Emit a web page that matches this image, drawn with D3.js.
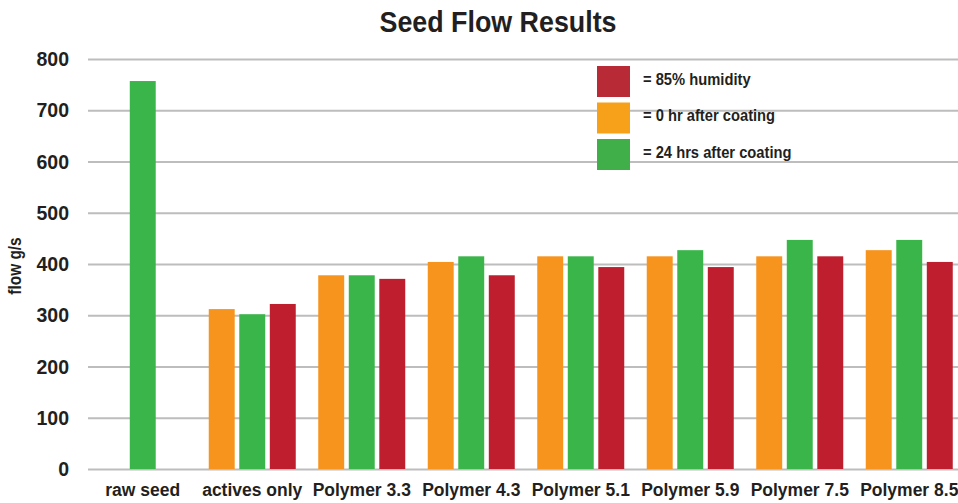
<!DOCTYPE html>
<html>
<head>
<meta charset="utf-8">
<script src="https://cdn.jsdelivr.net/npm/d3@7"></script>
<style>
	body { margin: 0; background: #fff; }
	text { font-family: 'Liberation Sans', Arial, sans-serif; font-weight: bold; fill: #231f20; }
</style>
</head>
<body>
<div id="chart"></div>
<script>
// Seed flow data (g/s)

const categories = ['raw seed', 'actives only', 'Polymer 3.3', 'Polymer 4.3', 'Polymer 5.1', 'Polymer 5.9', 'Polymer 7.5', 'Polymer 8.5']
const series = ['0 hr', '24 hrs', '85% humidity']
const hr0 = [null, 312, 378, 404, 415, 415, 415, 427]
const hr24 = [757, 302, 378, 415, 415, 427, 447, 447]
const humidity = [null, 322, 371, 378, 394, 394, 415, 404]
const yTicks = [0, 100, 200, 300, 400, 500, 600, 700, 800]
const legendLabels = ['= 85% humidity', '= 0 hr after coating', '= 24 hrs after coating']

const colors = { '0 hr': '#f7941d', '24 hrs': '#3ab54a', '85% humidity': '#be1e2d' }
const legendColors = ['#b72a36', '#f7a11a', '#40ae49']

// original uses a condensed face, so squeeze the text horizontally
function squeeze(sel, factor) {
	sel.each(function () {
		const len = this.getComputedTextLength()
		d3.select(this).attr('textLength', len * factor).attr('lengthAdjust', 'spacingAndGlyphs')
	})
}

function createChart() {
	const svgWidth = 958
	const svgHeight = 503
	const margin = { top: 59, right: 0, bottom: 34, left: 88 }
	const width = svgWidth - margin.left - margin.right
	const height = svgHeight - margin.top - margin.bottom

	const svg = d3
		.select('#chart')
		.append('svg')
		.attr('width', svgWidth)
		.attr('height', svgHeight)

	svg
		.append('text')
		.attr('x', 498)
		.attr('y', 32)
		.attr('text-anchor', 'middle')
		.attr('textLength', 237)
		.attr('lengthAdjust', 'spacingAndGlyphs')
		.style('font-size', '30px')
		.text('Seed Flow Results')

	const g = svg.append('g').attr('transform', `translate(${margin.left},${margin.top})`)

	const x0 = d3.scaleBand().domain(categories).range([0, 876]).padding(0)
	const x1 = d3.scaleBand().domain(series).range([-43.5, 43.5]).paddingInner(0.15)
	const y = d3.scaleLinear().domain([0, 800]).range([height, 0])

	// y axis with gridlines
	g.append('g')
		.call(d3.axisLeft(y).tickValues(yTicks).tickSizeInner(-width).tickSizeOuter(0).tickPadding(19))
		.call((a) => a.select('.domain').remove())
		.call((a) => a.selectAll('line').attr('stroke', '#bdbdbd').attr('stroke-width', 2))
		.call((a) => a.selectAll('text').style('font-size', '21px').attr('fill', '#231f20').call(squeeze, 0.93))

	// x axis labels
	g.append('g')
		.attr('transform', `translate(0,${height})`)
		.call(d3.axisBottom(x0).tickSize(0).tickPadding(15))
		.call((a) => a.select('.domain').remove())
		.call((a) => a.selectAll('text').style('font-size', '17.5px').attr('fill', '#231f20'))

	svg
		.append('text')
		.attr('transform', 'translate(21,266) rotate(-90)')
		.attr('text-anchor', 'middle')
		.style('font-size', '17.5px')
		.text('flow g/s')
		.call(squeeze, 0.88)

	const rows = categories.map((c, i) => ({
		name: c,
		values: [
			{ key: '0 hr', value: hr0[i] },
			{ key: '24 hrs', value: hr24[i] },
			{ key: '85% humidity', value: humidity[i] },
		].filter((d) => d.value !== null),
	}))

	g.selectAll('.group')
		.data(rows)
		.enter()
		.append('g')
		.attr('class', 'group')
		.attr('transform', (d) => `translate(${x0(d.name) + x0.bandwidth() / 2},0)`)
		.selectAll('rect')
		.data((d) => d.values)
		.enter()
		.append('rect')
		.attr('x', (d) => x1(d.key))
		.attr('y', (d) => y(d.value))
		.attr('width', x1.bandwidth())
		.attr('height', (d) => height - y(d.value))
		.attr('fill', (d) => colors[d.key])

	// legend
	const legend = svg
		.selectAll('.legend')
		.data(legendLabels)
		.enter()
		.append('g')
		.attr('class', 'legend')
		.attr('transform', (d, i) => `translate(597,${66 + i * 36.5})`)

	legend
		.append('rect')
		.attr('width', 33)
		.attr('height', 31)
		.attr('fill', (d, i) => legendColors[i])

	legend
		.append('text')
		.attr('x', 46)
		.attr('y', 13)
		.attr('dy', '0.35em')
		.style('font-size', '16px')
		.text((d) => d)
		.call(squeeze, 0.92)
}

createChart()
</script>
</body>
</html>
